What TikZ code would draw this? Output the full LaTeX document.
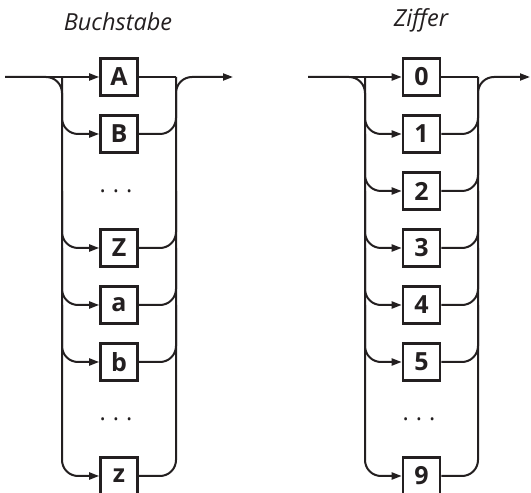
\documentclass[tikz,border=0pt]{standalone}
\usepackage{fontspec}
\setmainfont{Open Sans}
\usepackage{xcolor}
\usetikzlibrary{arrows.meta}
\definecolor{ink}{RGB}{35,31,32}

\begin{document}
\begin{tikzpicture}[x=1pt,y=1pt,
    every node/.style={font=\fontsize{23.5}{28}\selectfont,text=ink},
    sym/.style={draw=ink,line width=2.6pt,minimum size=37pt,inner sep=0pt,outer sep=1.3pt,
      font=\fontsize{25}{30}\selectfont\bfseries},
    rail/.style={draw=ink,line width=2pt,rounded corners=16pt},
    flow/.style={rail,-{Triangle[length=10pt,width=7pt]}}]
  \useasboundingbox (0,0) rectangle (531,493);

  % Buchstabe
  \node[anchor=base] (t-l) at (118,462) {\itshape Buchstabe};
  \coordinate (in-l) at (5,416);
  \coordinate (out-l) at (233,416);
  \coordinate (lr-l) at (62,416);
  \coordinate (rr-l) at (176,416);
  \foreach \i/\t in {0/A,1/B,3/Z,4/a,5/b,7/z}
    \node[sym] (l-\i) at (119,416-57*\i) {\t};
  \foreach \i in {2,6}
    \node (l-\i) at (116,416-57*\i) {.\hspace{7pt}.\hspace{7pt}.};
  \draw[flow] (in-l) -- (l-0);
  \draw[rail] (l-0) -- (rr-l);
  \draw[flow] (in-l) -| (l-7 -| lr-l) -- (l-7);
  \draw[flow] (l-7.east) -| (rr-l) -- (out-l);
  \foreach \i/\p in {1/0,3/2,4/3,5/4} {
    \draw[flow] (l-\p -| lr-l) |- (l-\i);
    \draw[rail] (l-\i.east) -| (l-\p -| rr-l);
  }

  % Ziffer
  \node[anchor=base] (t-r) at (421,466) {\itshape Ziffer};
  \coordinate (in-r) at (308,416);
  \coordinate (out-r) at (530,416);
  \coordinate (lr-r) at (365,416);
  \coordinate (rr-r) at (478,416);
  \foreach \i/\t in {0/0,1/1,2/2,3/3,4/4,5/5,7/9}
    \node[sym] (r-\i) at (421.5,416-57*\i) {\t};
  \node (r-6) at (419,416-57*6) {.\hspace{7pt}.\hspace{7pt}.};
  \draw[flow] (in-r) -- (r-0);
  \draw[rail] (r-0) -- (rr-r);
  \draw[flow] (in-r) -| (r-7 -| lr-r) -- (r-7);
  \draw[flow] (r-7.east) -| (rr-r) -- (out-r);
  \foreach \i in {1,...,5} {
    \pgfmathtruncatemacro{\p}{\i-1}
    \draw[flow] (r-\p -| lr-r) |- (r-\i);
    \draw[rail] (r-\i.east) -| (r-\p -| rr-r);
  }
\end{tikzpicture}
\end{document}
